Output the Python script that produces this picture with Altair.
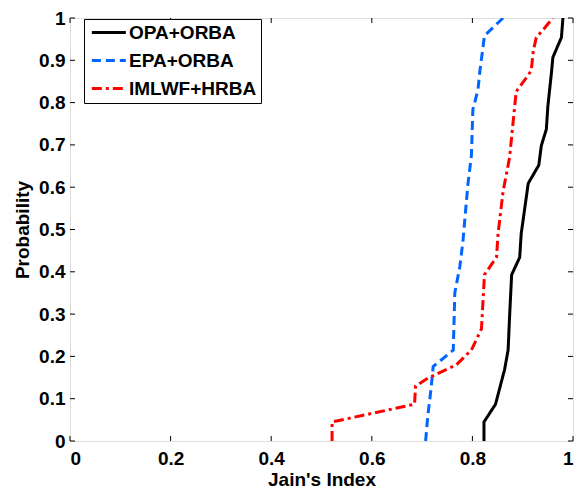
import altair as alt
import pandas as pd

series_names = ["OPA+ORBA", "EPA+ORBA", "IMLWF+HRBA"]
series_colors = ["#000000", "#0066ff", "#ff0000"]

opa_x = [0.823, 0.823, 0.846, 0.864, 0.871, 0.874, 0.878, 0.894, 0.897, 0.911, 0.932, 0.937, 0.947, 0.950, 0.957, 0.960, 0.977, 0.980]
opa_p = [0.0, 0.045, 0.087, 0.169, 0.215, 0.296, 0.393, 0.434, 0.49, 0.609, 0.652, 0.698, 0.737, 0.791, 0.869, 0.907, 0.954, 1.0]

epa_x = [0.707, 0.711, 0.718, 0.722, 0.762, 0.765, 0.775, 0.781, 0.791, 0.798, 0.801, 0.811, 0.815, 0.824, 0.861]
epa_p = [0.0, 0.056, 0.126, 0.176, 0.215, 0.350, 0.412, 0.47, 0.606, 0.675, 0.784, 0.83, 0.876, 0.958, 1.0]

iml_x = [0.521, 0.521, 0.685, 0.687, 0.712, 0.768, 0.798, 0.818, 0.824, 0.848, 0.851, 0.861, 0.874, 0.887, 0.911, 0.917, 0.921, 0.927, 0.944, 0.960]
iml_p = [0.0, 0.045, 0.087, 0.13, 0.149, 0.18, 0.215, 0.265, 0.393, 0.435, 0.49, 0.59, 0.671, 0.826, 0.865, 0.876, 0.922, 0.954, 0.977, 1.0]

x_ticks = [0, 0.2, 0.4, 0.6, 0.8, 1.0]
y_ticks = [0, 0.1, 0.2, 0.3, 0.4, 0.5, 0.6, 0.7, 0.8, 0.9, 1.0]

rows = []
for name, xs, ps in [(series_names[0], opa_x, opa_p), (series_names[1], epa_x, epa_p), (series_names[2], iml_x, iml_p)]:
    for i, (xv, pv) in enumerate(zip(xs, ps)):
        rows.append({"series": name, "x": xv, "p": pv, "order": i})
df = pd.DataFrame(rows)

W, H = 503, 423
FONT = "Liberation Sans"
FS = 19

xscale = alt.Scale(domain=[0, 1], nice=False, zero=False)
yscale = alt.Scale(domain=[0, 1], nice=False, zero=False)

lines = alt.Chart(df).mark_line(strokeWidth=3, clip=True).encode(
    x=alt.X("x:Q", scale=xscale, title="Jain's Index",
            axis=alt.Axis(values=x_ticks, format="~g", ticks=False, grid=False, domain=False,
                          labelFont=FONT, labelFontSize=FS, labelFontWeight="bold", labelColor="black",
                          labelPadding=8, titleFont=FONT, titleFontSize=FS, titleFontWeight="bold",
                          titleColor="black", titlePadding=2)),
    y=alt.Y("p:Q", scale=yscale, title="Probability",
            axis=alt.Axis(values=y_ticks, format="~g", ticks=False, grid=False, domain=False,
                          labelFont=FONT, labelFontSize=FS, labelFontWeight="bold", labelColor="black",
                          labelPadding=5, titleFont=FONT, titleFontSize=FS, titleFontWeight="bold",
                          titleColor="black", titlePadding=6)),
    color=alt.Color("series:N", scale=alt.Scale(domain=series_names, range=series_colors), title=None,
                    legend=alt.Legend(orient="none", legendX=14, legendY=1, symbolType="M-1,0H5",
                                      symbolSize=128.6, symbolStrokeWidth=3, labelFont=FONT,
                                      labelFontSize=FS, labelFontWeight="bold", labelColor="black",
                                      strokeColor="black", fillColor="white", padding=4,
                                      rowPadding=8, labelOffset=22, cornerRadius=0)),
    strokeDash=alt.StrokeDash("series:N", scale=alt.Scale(domain=series_names, range=[[1, 0], [9, 5], [10, 4, 3, 4]]),
                              title=None),
    order="order:Q",
    detail="series:N",
)

xt = pd.DataFrame({"t": x_ticks})
yt = pd.DataFrame({"t": y_ticks})
tick_style = dict(color="black", strokeWidth=1)
bottom = alt.Chart(xt).mark_rule(**tick_style).encode(x=alt.X("t:Q", scale=xscale), y=alt.value(H), y2=alt.value(H - 5))
top = alt.Chart(xt).mark_rule(**tick_style).encode(x=alt.X("t:Q", scale=xscale), y=alt.value(0), y2=alt.value(5))
left = alt.Chart(yt).mark_rule(**tick_style).encode(y=alt.Y("t:Q", scale=yscale), x=alt.value(0), x2=alt.value(5))
right = alt.Chart(yt).mark_rule(**tick_style).encode(y=alt.Y("t:Q", scale=yscale), x=alt.value(W), x2=alt.value(W - 5))

chart = alt.layer(bottom, top, left, right, lines).properties(
    width=W, height=H,
    autosize=alt.AutoSizeParams(type="none"),
    padding={"left": 62, "top": 10, "right": 5, "bottom": 52},
).configure_view(stroke="black", strokeWidth=1.2).configure(background="white")

chart.save("out.html", embed_options={"renderer": "svg", "actions": False})
